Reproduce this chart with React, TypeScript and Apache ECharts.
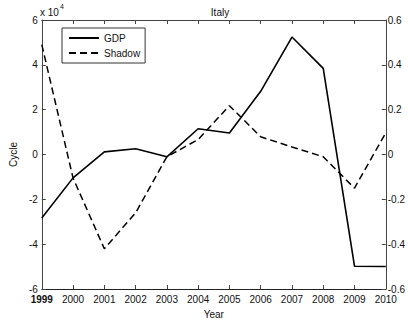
import React, { useEffect, useRef } from "react";
import * as echarts from "echarts";

// Italy: GDP cycle (left axis, in units of 10^4) and shadow-economy cycle (right axis)
const years = [1999, 2000, 2001, 2002, 2003, 2004, 2005, 2006, 2007, 2008, 2009, 2010];
const gdpCycle = [-28300, -10400, 1200, 2600, -1000, 11500, 9600, 28200, 52400, 38400, -49800, -49900];
const shadowCycle = [0.49, -0.105, -0.42, -0.26, -0.01, 0.067, 0.218, 0.079, 0.034, -0.01, -0.15, 0.097];

const leftTicks = { min: -60000, max: 60000, step: 20000 };
const rightTicks = { min: -0.6, max: 0.6, step: 0.2 };

const FONT = "'Liberation Sans', Arial, Helvetica, sans-serif";
const AXIS_COLOR = "#444";
const TEXT_COLOR = "#111";

export default function App() {
  const ref = useRef<HTMLDivElement>(null);

  useEffect(() => {
    if (!ref.current) return;
    const chart = echarts.init(ref.current, undefined, { renderer: "svg" });

    const gdpData = years.map((y, i) => [y, gdpCycle[i]]);
    const shadowData = years.map((y, i) => [y, shadowCycle[i]]);

    const tickCommon = {
      inside: true,
      length: 4,
      lineStyle: { color: AXIS_COLOR, width: 1 },
    };

    chart.setOption({
      animation: false,
      backgroundColor: "#fff",
      textStyle: { fontFamily: FONT },
      title: {
        text: "Italy",
        left: 215,
        top: 2,
        textAlign: "center",
        textStyle: { fontFamily: FONT, fontSize: 10, fontWeight: "normal", color: TEXT_COLOR },
      },
      grid: { left: 40, right: 18, top: 20, bottom: 30, containLabel: false },
      legend: {
        left: 62,
        top: 28,
        orient: "vertical",
        itemWidth: 30,
        itemHeight: 10,
        itemGap: 5,
        padding: [5, 5, 5, 6],
        borderColor: "#333",
        borderWidth: 1,
        backgroundColor: "#fff",
        itemStyle: { opacity: 0 },
        textStyle: { fontFamily: FONT, fontSize: 10, color: TEXT_COLOR, padding: [0, 0, 0, 0] },
        data: [{ name: "GDP" }, { name: "Shadow" }],
      },
      graphic: [
        {
          type: "text",
          left: 40,
          top: 3,
          style: {
            text: "{a|x 10}{s|4}",
            rich: {
              a: { fontFamily: FONT, fontSize: 10, fill: TEXT_COLOR, padding: [4, 0, 0, 0] },
              s: { fontFamily: FONT, fontSize: 7, fill: TEXT_COLOR, verticalAlign: "top", padding: [0, 0, 4, 1] },
            },
          },
        },
      ],
      xAxis: [
        {
          type: "value",
          min: years[0],
          max: years[years.length - 1],
          interval: 1,
          name: "Year",
          nameLocation: "middle",
          nameGap: 19,
          nameTextStyle: { fontFamily: FONT, fontSize: 10, color: TEXT_COLOR },
          axisLine: { show: true, onZero: false, lineStyle: { color: "#222", width: 1 } },
          axisTick: tickCommon,
          splitLine: { show: false },
          axisLabel: {
            margin: 5,
            fontFamily: FONT,
            fontSize: 10,
            color: TEXT_COLOR,
            formatter: (v: number) => (v === years[0] ? `{b|${v}}` : String(v)),
            rich: { b: { fontFamily: FONT, fontSize: 10, fontWeight: "bold", color: TEXT_COLOR } },
          },
        },
        {
          type: "value",
          position: "top",
          min: years[0],
          max: years[years.length - 1],
          interval: 1,
          axisLine: { show: true, onZero: false, lineStyle: { color: AXIS_COLOR, width: 1 } },
          axisTick: tickCommon,
          axisLabel: { show: false },
          splitLine: { show: false },
        },
      ],
      yAxis: [
        {
          type: "value",
          position: "left",
          min: leftTicks.min,
          max: leftTicks.max,
          interval: leftTicks.step,
          name: "Cycle",
          nameLocation: "middle",
          nameGap: 18,
          nameRotate: 90,
          nameTextStyle: { fontFamily: FONT, fontSize: 10, color: TEXT_COLOR },
          axisLine: { show: true, onZero: false, lineStyle: { color: AXIS_COLOR, width: 1 } },
          axisTick: tickCommon,
          splitLine: { show: false },
          axisLabel: {
            margin: 4,
            fontFamily: FONT,
            fontSize: 10,
            color: TEXT_COLOR,
            formatter: (v: number) => String(Math.round(v / 10000)),
          },
        },
        {
          type: "value",
          position: "right",
          min: rightTicks.min,
          max: rightTicks.max,
          interval: rightTicks.step,
          axisLine: { show: true, onZero: false, lineStyle: { color: AXIS_COLOR, width: 1 } },
          axisTick: tickCommon,
          splitLine: { show: false },
          axisLabel: {
            margin: 2,
            fontFamily: FONT,
            fontSize: 10,
            color: TEXT_COLOR,
            formatter: (v: number) => String(Math.round(v * 10) / 10),
          },
        },
      ],
      series: [
        {
          name: "GDP",
          type: "line",
          xAxisIndex: 0,
          yAxisIndex: 0,
          data: gdpData,
          symbol: "none",
          lineStyle: { color: "#000", width: 1.6, type: "solid" },
          itemStyle: { color: "#000" },
        },
        {
          name: "Shadow",
          type: "line",
          xAxisIndex: 0,
          yAxisIndex: 1,
          data: shadowData,
          symbol: "none",
          lineStyle: { color: "#000", width: 1.5, type: [7, 4] },
          itemStyle: { color: "#000" },
        },
      ],
    });

    return () => chart.dispose();
  }, []);

  return (
    <div
      ref={ref}
      style={{ position: "fixed", left: 0, top: 0, width: 408, height: 324 }}
    />
  );
}
